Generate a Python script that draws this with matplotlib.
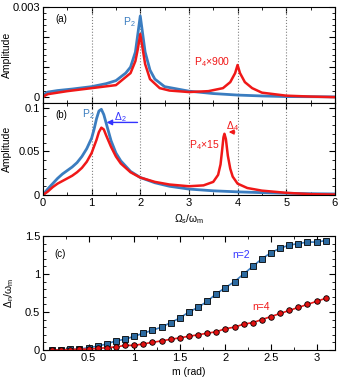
import numpy as np
import matplotlib
matplotlib.use('Agg')
import matplotlib.pyplot as plt
from matplotlib.ticker import MultipleLocator

plt.rcParams['font.family'] = ['Liberation Sans', 'DejaVu Sans']
plt.rcParams['mathtext.fontset'] = 'custom'
plt.rcParams['mathtext.rm'] = 'Liberation Sans'
plt.rcParams['mathtext.it'] = 'Liberation Sans:italic'

# ========== data ==========
# panel (a): amplitude spectra
xa_p2 = [0, 0.05, 0.1, 0.3, 0.6, 1.0, 1.3, 1.5, 1.7, 1.8, 1.9, 1.95, 2.0, 2.05, 2.1, 2.2, 2.3,
         2.5, 3.0, 3.5, 4.0, 4.5, 5.0, 6.0]
ya_p2 = [0, 0.00012, 0.00017, 0.00022, 0.00027, 0.00035, 0.00045, 0.00055, 0.0008, 0.001,
         0.0015, 0.0021, 0.0027, 0.0021, 0.0015, 0.0009, 0.0006, 0.00035, 0.0002, 0.00012,
         0.00007, 0.00004, 0.00002, 0.00001]
xa_p4 = [0, 0.05, 0.1, 0.5, 1.0, 1.5, 1.8, 1.9, 1.95, 2.0, 2.05, 2.1, 2.2, 2.4, 2.6, 3.0,
         3.4, 3.7, 3.85, 3.95, 4.0, 4.05, 4.15, 4.3, 4.5, 5.0, 5.5, 6.0]
ya_p4 = [0, 0.00006, 0.0001, 0.0002, 0.0003, 0.0004, 0.0008, 0.0012, 0.0016, 0.0021,
         0.0016, 0.0011, 0.0006, 0.0003, 0.00022, 0.00017, 0.0002, 0.0003, 0.0005, 0.0008,
         0.00107, 0.0008, 0.0005, 0.0003, 0.00015, 0.00005, 0.00002, 0]

# panel (b)
xb_p2 = [0, 0.1, 0.2, 0.3, 0.4, 0.5, 0.6, 0.7, 0.8, 0.9, 1.0, 1.05, 1.1, 1.15, 1.2, 1.25,
         1.3, 1.4, 1.5, 1.6, 1.8, 2.0, 2.3, 2.6, 3.0, 3.5, 4.0, 4.5, 5.0, 5.5, 6.0]
yb_p2 = [0, 0.007, 0.013, 0.019, 0.024, 0.028, 0.032, 0.037, 0.044, 0.053, 0.065, 0.075,
         0.087, 0.096, 0.098, 0.092, 0.082, 0.062, 0.048, 0.039, 0.027, 0.020, 0.014, 0.010,
         0.0068, 0.0048, 0.0036, 0.0027, 0.002, 0.0015, 0.0012]
xb_p4 = [0, 0.1, 0.2, 0.3, 0.4, 0.5, 0.6, 0.7, 0.8, 0.9, 1.0, 1.1, 1.15, 1.2, 1.25, 1.3,
         1.4, 1.5, 1.6, 1.8, 2.0, 2.3, 2.6, 3.0, 3.3, 3.5, 3.6, 3.65, 3.68, 3.71, 3.73,
         3.76, 3.8, 3.85, 3.9, 4.0, 4.2, 4.5, 5.0, 5.5, 6.0]
yb_p4 = [0, 0.004, 0.009, 0.013, 0.016, 0.019, 0.022, 0.026, 0.031, 0.038, 0.048, 0.063,
         0.072, 0.077, 0.075, 0.068, 0.055, 0.044, 0.036, 0.026, 0.020, 0.015, 0.012, 0.010,
         0.011, 0.015, 0.023, 0.035, 0.050, 0.066, 0.070, 0.064, 0.045, 0.030, 0.021,
         0.013, 0.008, 0.005, 0.0025, 0.001, 0.0005]

# panel (c): frequency shift vs modulation depth
m = [0.1, 0.2, 0.3, 0.4, 0.5, 0.6, 0.7, 0.8, 0.9, 1.0, 1.1, 1.2, 1.3, 1.4, 1.5, 1.6,
     1.7, 1.8, 1.9, 2.0, 2.1, 2.2, 2.3, 2.4, 2.5, 2.6, 2.7, 2.8, 2.9, 3.0, 3.1]
shift_n2 = [0, 0, 0.01, 0.01, 0.03, 0.05, 0.08, 0.12, 0.14, 0.18, 0.22, 0.26, 0.30, 0.36,
            0.42, 0.50, 0.56, 0.64, 0.74, 0.82, 0.90, 1.00, 1.10, 1.20, 1.28, 1.34, 1.38,
            1.40, 1.42, 1.42, 1.44]
shift_n4 = [0, 0, 0.005, 0.01, 0.01, 0.02, 0.03, 0.04, 0.06, 0.06, 0.08, 0.10, 0.12, 0.14,
            0.16, 0.18, 0.20, 0.22, 0.24, 0.28, 0.30, 0.34, 0.36, 0.40, 0.44, 0.48, 0.52,
            0.56, 0.60, 0.64, 0.68]

blue = '#3b7dc0'
red = '#f01818'
bright_blue = '#3333ff'
fs = 8

fig = plt.figure(figsize=(3.41, 3.85), dpi=100)
axA = fig.add_axes([0.126, 0.732, 0.856, 0.250])
axB = fig.add_axes([0.126, 0.4935, 0.856, 0.2385])
axC = fig.add_axes([0.126, 0.091, 0.856, 0.296])

def style(ax):
    ax.tick_params(which='both', direction='in', top=True, right=True, labelsize=fs, pad=2)
    ax.tick_params(which='major', length=4, width=0.8)
    ax.tick_params(which='minor', length=2, width=0.6)
    for s in ax.spines.values():
        s.set_linewidth(0.8)

# ---------- (a) ----------
for xv in [1, 2, 3, 4, 5]:
    axA.axvline(xv, color='gray', ls=':', lw=0.8)
axA.plot(xa_p2, ya_p2, color=blue, lw=2)
axA.plot(xa_p4, ya_p4, color=red, lw=1.8)
axA.set_xlim(0, 6)
axA.set_ylim(-0.0002, 0.003)
axA.set_yticks([0, 0.001, 0.002, 0.003])
axA.set_yticklabels(['0', '', '', '0.003'])
axA.yaxis.set_minor_locator(MultipleLocator(0.0002))
axA.set_xticks(range(7))
axA.xaxis.set_minor_locator(MultipleLocator(0.5))
axA.set_xticklabels([])
axA.set_ylabel('Amplitude', fontsize=7.5)
axA.yaxis.set_label_coords(-0.105, 0.5)
axA.text(0.25, 0.0025, '(a)', fontsize=7)
axA.text(1.65, 0.0024, 'P$_\\mathregular{2}$', color=blue, fontsize=7.5)
axA.text(3.1, 0.00105, 'P$_\\mathregular{4}$×900', color=red, fontsize=7.5)
style(axA)

# ---------- (b) ----------
for xv in [1, 2, 3, 4, 5]:
    axB.axvline(xv, color='gray', ls=':', lw=0.8)
axB.plot(xb_p2, yb_p2, color=blue, lw=2)
axB.plot(xb_p4, yb_p4, color=red, lw=1.8)
axB.set_xlim(0, 6)
axB.set_ylim(0, 0.105)
axB.set_yticks([0, 0.05, 0.1])
axB.set_yticklabels(['0', '0.05', '0.1'])
axB.yaxis.set_minor_locator(MultipleLocator(0.01))
axB.set_xticks(range(7))
axB.xaxis.set_minor_locator(MultipleLocator(0.5))
axB.set_xlabel('Ω$_\\mathregular{s}$/ω$_\\mathregular{m}$', fontsize=7.5, labelpad=3)
axB.set_ylabel('Amplitude', fontsize=7.5)
axB.yaxis.set_label_coords(-0.105, 0.5)
axB.text(0.25, 0.088, '(b)', fontsize=7)
axB.text(0.8, 0.089, 'P$_\\mathregular{2}$', color=blue, fontsize=7.5)
axB.annotate('', xy=(1.25, 0.083), xytext=(2.0, 0.083),
             arrowprops=dict(arrowstyle='-|>', color=bright_blue, lw=1, mutation_scale=8))
axB.text(1.6, 0.086, 'Δ$_\\mathregular{2}$', color=bright_blue, fontsize=7.5, ha='center')
axB.annotate('', xy=(3.76, 0.072), xytext=(4.0, 0.072),
             arrowprops=dict(arrowstyle='-|>', color=red, lw=1, mutation_scale=7))
axB.text(3.9, 0.075, 'Δ$_\\mathregular{4}$', color=red, fontsize=7.5, ha='center')
axB.text(3.0, 0.053, 'P$_\\mathregular{4}$×15', color=red, fontsize=7.5)
style(axB)

# ---------- (c) ----------
axC.plot(m, shift_n2, color=blue, lw=1.2, marker='s', ms=4, mfc='#2c6aa0',
         mec='black', mew=0.6)
axC.plot(m, shift_n4, color=red, lw=1.2, marker='o', ms=4, mfc='#e01010',
         mec='black', mew=0.6)
axC.set_xlim(0, 3.2)
axC.set_ylim(0, 1.5)
axC.set_xticks([0, 0.5, 1, 1.5, 2, 2.5, 3])
axC.set_xticklabels(['0', '0.5', '1', '1.5', '2', '2.5', '3'])
axC.set_yticks([0, 0.5, 1, 1.5])
axC.set_yticklabels(['0', '0.5', '1', '1.5'])
axC.xaxis.set_minor_locator(MultipleLocator(0.25))
axC.yaxis.set_minor_locator(MultipleLocator(0.1))
axC.set_xlabel('m (rad)', fontsize=7.5, labelpad=3)
axC.set_ylabel('Δ$_\\mathregular{n}$/ω$_\\mathregular{m}$', fontsize=7.5)
axC.yaxis.set_label_coords(-0.092, 0.5)
axC.text(0.13, 1.22, '(c)', fontsize=7)
axC.text(2.08, 1.21, 'n=2', color=bright_blue, fontsize=7.5)
axC.text(2.3, 0.53, 'n=4', color=red, fontsize=7.5)
style(axC)

fig.savefig('out.png', dpi=100)
